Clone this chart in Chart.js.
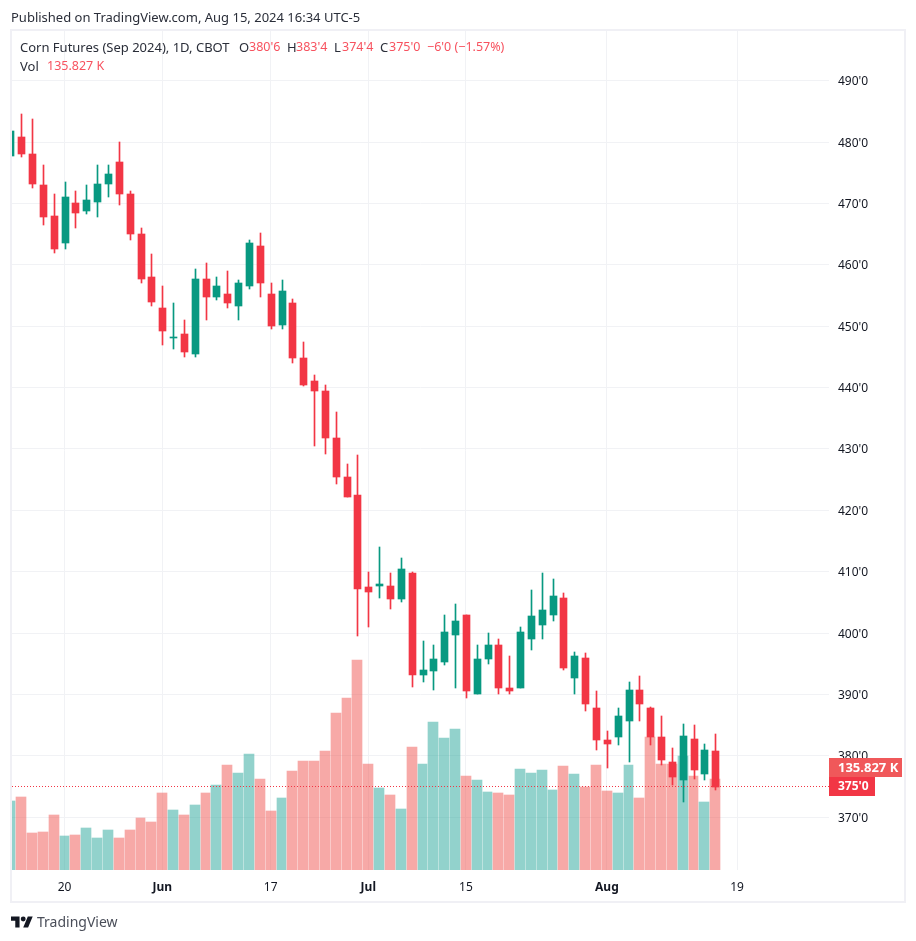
<!DOCTYPE html>
<html>
<head>
<meta charset="utf-8">
<title>Corn Futures</title>
<script src="https://cdn.jsdelivr.net/npm/chart.js@4"></script>
<style>
    html, body { margin: 0; padding: 0; background: #fff; }
    body { width: 916px; height: 941px; position: relative; overflow: hidden; font-family: "Noto Sans", sans-serif; color: #131722; }
    #frame { position: absolute; left: 10px; top: 29px; width: 892px; height: 870px; border: 2px solid #f0f0f5; }
    canvas { position: absolute; left: 0; top: 0; }
    .t { position: absolute; font-size: 13px; line-height: 16px; white-space: nowrap; color: #2a2e39; }
    .r { color: #f7525f; font-size: 12.5px; }
    #logo { position: absolute; left: 11px; top: 916px; }
</style>
</head>
<body>
<div id="frame"></div>
<canvas id="myChart" width="916" height="941"></canvas>
<div class="t" style="left:11px;top:9px">Published on TradingView.com, Aug 15, 2024 16:34 UTC-5</div>
<div class="t" style="left:20px;top:39px">Corn Futures (Sep 2024), 1D, CBOT</div>
<div class="t" style="left:239px;top:39px">O</div><div class="t r" style="left:249px;top:39px">380'6</div>
<div class="t" style="left:287px;top:39px">H</div><div class="t r" style="left:296px;top:39px">383'4</div>
<div class="t" style="left:334px;top:39px">L</div><div class="t r" style="left:342px;top:39px">374'4</div>
<div class="t" style="left:380px;top:39px">C</div><div class="t r" style="left:389px;top:39px">375'0</div>
<div class="t r" style="left:427px;top:39px">−6'0 (−1.57%)</div>
<div class="t" style="left:20px;top:58px">Vol</div><div class="t r" style="left:47px;top:58px">135.827 K</div>
<svg id="logo" width="22" height="12" viewBox="0 4 36 18"><path fill="#131722" d="M14 22H7V11H0V4h14v18zM28 22h-8l7.5-18h8L28 22z"/><circle fill="#131722" cx="20" cy="8" r="4"/></svg>
<div class="t" style="left:37px;top:912px;font-size:14px;line-height:20px;color:#4a4e59">TradingView</div>
<script>
// one entry per session, May 13 - Aug 19 2024 (last two have no bar yet)
var dates = ["May 13","May 14","May 15","May 16","May 17","May 20","May 21","May 22","May 23","May 24","May 28","May 29","May 30","May 31",
    "Jun 3","Jun 4","Jun 5","Jun 6","Jun 7","Jun 10","Jun 11","Jun 12","Jun 13","Jun 14","Jun 17","Jun 18","Jun 20","Jun 21","Jun 24","Jun 25","Jun 26","Jun 27","Jun 28",
    "Jul 1","Jul 2","Jul 3","Jul 5","Jul 8","Jul 9","Jul 10","Jul 11","Jul 12","Jul 15","Jul 16","Jul 17","Jul 18","Jul 19","Jul 22","Jul 23","Jul 24","Jul 25","Jul 26","Jul 29","Jul 30","Jul 31",
    "Aug 1","Aug 2","Aug 5","Aug 6","Aug 7","Aug 8","Aug 9","Aug 12","Aug 13","Aug 14","Aug 15","Aug 16","Aug 19"];
var opens = [477.75,480.75,478,473,468,463.5,470,468.75,470.25,473.25,476.75,471.5,465,458,453,448,448.75,445.5,457.75,454.75,455.25,453.25,456.5,463,455.25,450.25,453.75,
    444.75,441,439.5,431.75,425.5,422.5,407.5,407.75,407.75,405.5,409.75,393.25,393.75,395.25,399.75,403,390,395.75,398,391,391,399,401.25,403,405.75,392.75,396,
    387.75,382.5,383,385.75,390.75,387.75,383,379,376,382.75,377,380.75];
var highs = [482.5,484.5,483.75,476.25,471.5,473.5,472,473,476.25,476.25,480,472,466,461.75,456.5,453.75,451,459.25,460.25,458,459,457.5,464,465.25,457,457.5,454.5,
    447.5,442,440.5,436,427.5,429,410,414,409.75,412.25,410,398.75,398,403,404.75,403,398,400,399,396.25,401,407,409.75,408.75,406.5,397,396.75,
    390.5,384,387.75,392,393,388,386.5,381.25,385.25,385,382,383.5];
var lows = [477.5,477.5,472.5,466.5,462,462.5,466,468.25,467.75,471,469.75,464,457,453.25,447,446.25,445,445,451,454.25,453,451,456,454.75,449.5,449.5,444,
    440.25,430.5,429.25,424.25,422.25,399.5,401,405.75,404,405,391.25,392,390.75,394.75,391,389.5,390,395,390,390,391,397.25,399,402,394,390,387.25,
    381,378,381.75,379,385.75,381.75,378.5,375.25,372.5,376.25,376,374.5];
var closes = [481.75,478,473.25,467.75,462.5,471,468.5,470.5,473.25,474.75,471.5,465,457.75,454,449.25,448.25,445.75,457.75,454.75,456.5,453.75,457,463.5,457,450,455.75,444.75,
    440.5,439.5,431.75,425.5,422.25,407.25,406.75,408,405.5,410.5,393.25,394,395.75,400.25,402,390.5,395.75,398,391,390.5,400.25,402.75,403.75,406,394.25,396.25,388.5,
    382.5,382,386.5,390.75,388.5,383,379.25,376.5,383.25,377.75,381,375];
// thousands of contracts
var volumes = [103,109,55,57,82,51,52,63,48,60,48,60,78,72,115,90,82,97,115,127,157,145,173,136,88,107,148,163,163,178,234,257,313,
    158,122,112,91,184,158,221,197,210,140,134,116,115,112,151,145,149,119,155,143,124,157,118,115,157,107,199,158,158,170,140,102,135.827];
var tickDates = ["May 20","Jun 3","Jun 17","Jul 1","Jul 15","Aug 1","Aug 19"];
var tickLabels = ["20","Jun","17","Jul","15","Aug","19"];
var monthLabels = ["Jun","Jul","Aug"];
var priceTicks = [490,480,470,460,450,440,430,420,410,400,390,380,370];

var UP = "#089981", DOWN = "#f23645";
var FONT = '"Noto Sans", sans-serif';

function fmtPrice(p) {
    var whole = Math.floor(p);
    return whole + "'" + Math.round((p - whole) * 8);
}

function candleColor(i) {
    return closes[i] >= opens[i] ? UP : DOWN;
}

var indexes = closes.map(function (c, i) { return i; });
var lastClose = closes[closes.length - 1];
var lastVol = volumes[volumes.length - 1];

// TradingView puts its bars on whole pixels, so do the same here
var snapBars = {
    id: "snapBars",
    afterDatasetsUpdate: function (chart) {
        chart.data.datasets.forEach(function (ds, n) {
            var bars = chart.getDatasetMeta(n).data;
            var centers = bars.map(function (el) { return Math.round(el.x); });
            bars.forEach(function (el, i) {
                var half = ds.barThickness % 2 ? 0.5 : 0;
                el.x = centers[i] + half;
                // volume bars keep a 1px gap, the narrower steps lose a pixel
                if (ds.label === "Vol" && i + 1 < bars.length && centers[i + 1] - centers[i] < 11) {
                    el.width = ds.barThickness - 1;
                    el.x = centers[i] - 0.5;
                }
                var top = Math.round(Math.min(el.y, el.base));
                var bottom = Math.round(Math.max(el.y, el.base));
                if (bottom === top) bottom = top + 1;
                el.y = top;
                el.base = bottom;
                el.height = bottom - top;
            });
        });
    }
};

var lastPrice = {
    id: "lastPrice",
    afterDatasetsDraw: function (chart) {
        var ctx = chart.ctx, area = chart.chartArea;
        var y = Math.floor(chart.scales.y.getPixelForValue(lastClose));
        ctx.save();
        ctx.strokeStyle = DOWN;
        ctx.lineWidth = 1;
        ctx.setLineDash([1, 2]);
        ctx.beginPath();
        ctx.moveTo(area.left, y + 0.5);
        ctx.lineTo(area.right, y + 0.5);
        ctx.stroke();
        ctx.restore();
    },
    afterDraw: function (chart) {
        var ctx = chart.ctx, area = chart.chartArea;
        var y = Math.floor(chart.scales.y.getPixelForValue(lastClose));
        ctx.save();
        ctx.textBaseline = "middle";
        ctx.fillStyle = "#f0585a";
        ctx.fillRect(area.right, y - 28, 73, 19);
        ctx.fillStyle = DOWN;
        ctx.fillRect(area.right, y - 9, 46, 19);
        ctx.fillStyle = "#fff";
        ctx.font = "bold 13px " + FONT;
        ctx.fillText(lastVol + " K", area.right + 9, y - 18);
        ctx.font = "bold 12px " + FONT;
        ctx.fillText(fmtPrice(lastClose), area.right + 9, y + 1);
        ctx.restore();
    }
};

var ctx = document.getElementById("myChart").getContext("2d");
var myChart = new Chart(ctx, {
    type: "bar",
    data: {
        datasets: [
            {
                label: "Body",
                order: 1,
                yAxisID: "y",
                barThickness: 7,
                borderWidth: 0,
                grouped: false,
                data: indexes.map(function (i) { return { x: i, y: [opens[i], closes[i]] }; }),
                backgroundColor: indexes.map(candleColor)
            },
            {
                label: "Wick",
                order: 2,
                yAxisID: "y",
                barThickness: 1,
                borderWidth: 0,
                grouped: false,
                data: indexes.map(function (i) { return { x: i, y: [lows[i], highs[i]] }; }),
                backgroundColor: indexes.map(candleColor)
            },
            {
                label: "Vol",
                order: 3,
                yAxisID: "vol",
                barThickness: 10,
                borderWidth: 0,
                grouped: false,
                data: indexes.map(function (i) { return { x: i, y: volumes[i] }; }),
                backgroundColor: indexes.map(function (i) {
                    return closes[i] >= opens[i] ? "rgba(38,166,154,0.5)" : "rgba(239,83,80,0.5)";
                })
            }
        ]
    },
    options: {
        responsive: false,
        animation: false,
        events: [],
        layout: { padding: { left: 12, top: 31 } },
        plugins: { legend: { display: false }, tooltip: { enabled: false } },
        scales: {
            x: {
                type: "linear",
                offset: false,
                min: 0.15,
                max: 75.48,
                border: { display: false },
                grid: { color: "#f1f2f5", drawTicks: false, offset: false },
                afterFit: function (scale) { scale.height = 71; },
                afterBuildTicks: function (scale) {
                    scale.ticks = tickDates.map(function (d) { return { value: dates.indexOf(d) }; });
                },
                ticks: {
                    autoSkip: false,
                    maxRotation: 0,
                    padding: 10,
                    color: "#131722",
                    callback: function (value) { return tickLabels[tickDates.indexOf(dates[value])]; },
                    font: function (c) {
                        var isMonth = c.tick && monthLabels.indexOf(c.tick.label) >= 0;
                        return { family: FONT, size: 12, weight: isMonth ? "bold" : "normal" };
                    }
                }
            },
            y: {
                position: "right",
                min: 361.4,
                max: 498.1,
                border: { display: false },
                grid: { color: "#f1f2f5", drawTicks: false },
                afterFit: function (scale) { scale.width = 87; },
                afterBuildTicks: function (scale) {
                    scale.ticks = priceTicks.map(function (p) { return { value: p }; });
                },
                ticks: {
                    padding: 9,
                    labelOffset: 1,
                    color: "#131722",
                    font: { family: FONT, size: 12 },
                    callback: function (value) { return fmtPrice(value); }
                }
            },
            vol: {
                display: false,
                min: 0,
                max: 1252.3
            }
        }
    },
    plugins: [snapBars, lastPrice]
});
</script>
</body>
</html>
